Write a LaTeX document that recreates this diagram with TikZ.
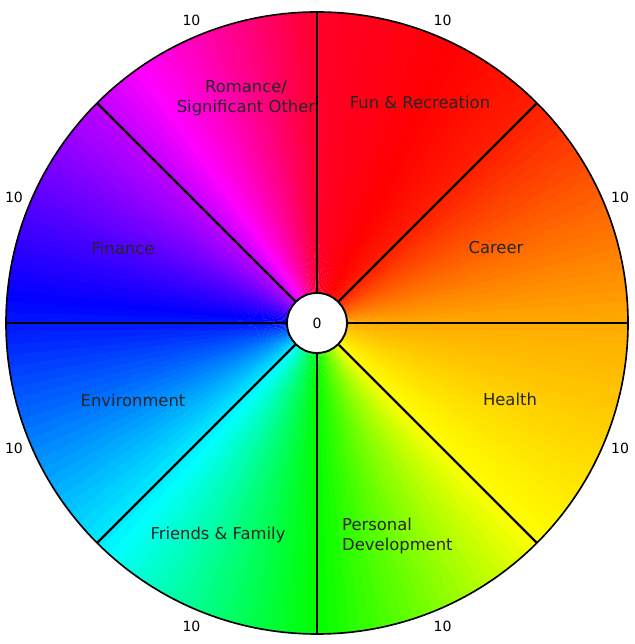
\documentclass[tikz,border=0pt]{standalone}
\usepackage{fontspec}
\setmainfont{DejaVu Sans}
\usetikzlibrary{calc}
\begin{document}
\begin{tikzpicture}[x=0.03cm,y=0.03cm,
  lbl/.style={font=\fontsize{14}{17}\selectfont, text=black!85, align=center, inner sep=0pt},
  ten/.style={font=\fontsize{12}{14}\selectfont, inner sep=0pt},
  divider/.style={draw=black, line width=2pt}]
\useasboundingbox (0,0) rectangle (634,644);
\coordinate (c) at (317,321);
\def\R{311}
\foreach \a in {0,2,...,358}{
  \pgfmathsetmacro\th{mod(90-\a-1+720,360)}
  \pgfmathtruncatemacro\k{floor(\th/45)}
  \pgfmathsetmacro\fr{(\th-45*\k)/45}
  \pgfmathsetmacro\hA{{350,367,400,420,480,545,595,645,710}[\k]}
  \pgfmathsetmacro\hB{{350,367,400,420,480,545,595,645,710}[\k+1]}
  \pgfmathsetmacro\h{mod(\hA+(\hB-\hA)*\fr,360)/360}
  \definecolor{wc}{hsb}{\h,1,1}
  \fill[wc] (c) -- ++(\a:\R) arc (\a:\a+2.3:\R) -- cycle;
}
\draw[line width=1.4pt] (c) circle (\R);
\node[circle, draw=black, line width=1.6pt, fill=white, minimum size=60*0.03cm, inner sep=0pt, font=\fontsize{12}{14}\selectfont] (hub) at (c) {0};
\foreach \a [count=\i] in {0,45,...,315}{
  \coordinate (r\i) at ($(c)+(\a:\R)$);
  \draw[divider] (hub.\a) -- (r\i);
}
\foreach \a [count=\i] in {22.5,67.5,...,337.5}{
  \node[ten] (t\i) at ($(c)+(\a:328)$) {10};
}
\node[lbl] (romance) at (246,546) {Romance/\\Significant Other};
\node[lbl] (fun) at (420,542) {Fun \& Recreation};
\node[lbl] (career) at (496,396) {Career};
\node[lbl] (health) at (510,245) {Health};
\node[lbl, align=left, anchor=west] (personal) at (342,108) {Personal\\Development};
\node[lbl] (friends) at (218,109) {Friends \& Family};
\node[lbl] (env) at (133,244) {Environment};
\node[lbl] (finance) at (123,396) {Finance};
\end{tikzpicture}
\end{document}
